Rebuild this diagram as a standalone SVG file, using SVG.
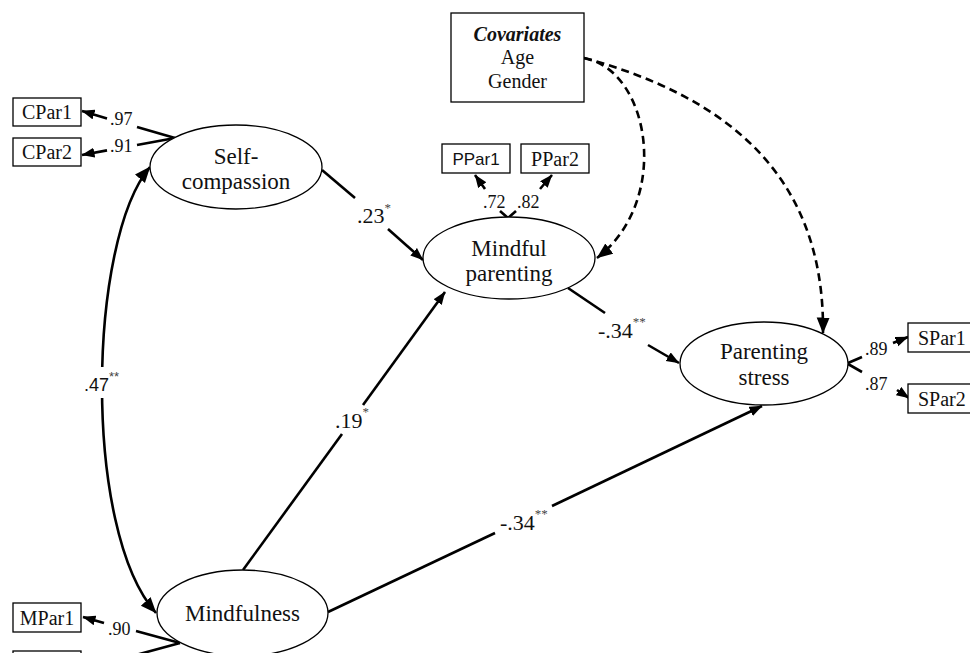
<svg xmlns="http://www.w3.org/2000/svg" width="970" height="653" viewBox="0 0 970 653">
<style>
  .box{fill:#fff;stroke:#000;stroke-width:1.3}
  .ell{fill:#fff;stroke:#000;stroke-width:1.3}
  .t{font-family:'Liberation Serif','Times New Roman',serif;fill:#111}
  .bl{font-size:20px;text-anchor:middle}
  .nl{font-size:23px;text-anchor:middle}
  .sans{font-family:'Liberation Sans',Arial,sans-serif}
  .ld{font-size:18px}
  .cf{font-size:22px}
  .sup{font-size:13px;fill:#444}
  .ln{fill:none;stroke:#000;stroke-width:2.6}
  .dl{fill:none;stroke:#000;stroke-width:2.6;stroke-dasharray:8 5}
</style>
<defs>
  <marker id="ah" markerUnits="userSpaceOnUse" markerWidth="14" markerHeight="11" refX="12.5" refY="5" orient="auto">
    <path d="M0,0 L13,5 L0,10 z" fill="#000"/>
  </marker>
  <marker id="ahb" markerUnits="userSpaceOnUse" markerWidth="17" markerHeight="14" refX="15.5" refY="6.5" orient="auto-start-reverse">
    <path d="M0,0 L16,6.5 L0,13 z" fill="#000"/>
  </marker>
</defs>

<g id="connectors">
  <!-- Self-compassion indicators -->
  <line class="ln" x1="175" y1="138" x2="137" y2="127"/>
  <line class="ln" x1="107" y1="118.5" x2="82" y2="111" marker-end="url(#ah)"/>
  <line class="ln" x1="175" y1="138" x2="137" y2="145"/>
  <line class="ln" x1="107" y1="150.4" x2="82" y2="155" marker-end="url(#ah)"/>
  <!-- SC -> MP -->
  <line class="ln" x1="322" y1="170" x2="355" y2="198"/>
  <line class="ln" x1="388" y1="229" x2="423" y2="260" marker-end="url(#ah)"/>
  <!-- MP indicators -->
  <line class="ln" x1="508" y1="218" x2="500" y2="211"/>
  <line class="ln" x1="485" y1="189" x2="475" y2="175" marker-end="url(#ah)"/>
  <line class="ln" x1="508" y1="218" x2="516" y2="211"/>
  <line class="ln" x1="540" y1="189" x2="552" y2="175" marker-end="url(#ah)"/>
  <!-- MP -> PS -->
  <line class="ln" x1="568" y1="288" x2="605" y2="313"/>
  <line class="ln" x1="648" y1="345" x2="679" y2="363" marker-end="url(#ah)"/>
  <!-- Mindfulness -> MP -->
  <line class="ln" x1="243" y1="570" x2="342" y2="434"/>
  <line class="ln" x1="363" y1="405" x2="445" y2="292" marker-end="url(#ah)"/>
  <!-- Mindfulness -> PS -->
  <line class="ln" x1="328" y1="612" x2="495" y2="533"/>
  <line class="ln" x1="552" y1="506" x2="762" y2="406" marker-end="url(#ah)"/>
  <!-- correlation -->
  <path class="ln" d="M150,167 C88,240 82,530 156,613" marker-start="url(#ahb)" marker-end="url(#ahb)"/>
  <rect x="92" y="367" width="22" height="31" fill="#fff"/>
  <!-- Mindfulness indicators -->
  <line class="ln" x1="180" y1="643" x2="136" y2="631"/>
  <line class="ln" x1="104" y1="623" x2="83" y2="617" marker-end="url(#ah)"/>
  <line class="ln" x1="180" y1="643" x2="110" y2="662"/>
  <!-- PS indicators -->
  <line class="ln" x1="848" y1="363" x2="862" y2="357"/>
  <line class="ln" x1="893" y1="343" x2="908" y2="337" marker-end="url(#ah)"/>
  <line class="ln" x1="848" y1="364" x2="862" y2="372"/>
  <line class="ln" x1="897" y1="390" x2="909" y2="398" marker-end="url(#ah)"/>
  <!-- covariates -->
  <path class="dl" d="M584,58 C650,70 672,200 597,258" marker-end="url(#ahb)"/>
  <path class="dl" d="M584,58 C720,95 825,170 823,333" marker-end="url(#ahb)"/>

  <!-- labels -->
  <text class="t ld" x="110" y="125">.97</text>
  <text class="t ld" x="110" y="152">.91</text>
  <text class="t cf" x="357" y="223">.23<tspan class="sup" dy="-11">*</tspan></text>
  <text class="t ld" x="483" y="208">.72</text>
  <text class="t ld" x="517" y="208">.82</text>
  <text class="t cf" x="598" y="338">-.34<tspan class="sup" dy="-12">**</tspan></text>
  <text class="t cf" x="335" y="428">.19<tspan class="sup" dy="-12">*</tspan></text>
  <text class="t cf" x="500" y="530">-.34<tspan class="sup" dy="-12">**</tspan></text>
  <text class="t sans" x="84" y="391" font-size="18" fill="#222">.47<tspan class="sup" dy="-10" font-size="12">**</tspan></text>
  <text class="t ld" x="108" y="635">.90</text>
  <text class="t ld" x="865" y="355">.89</text>
  <text class="t ld" x="865" y="390">.87</text>
</g>

<g id="covariates">
  <rect class="box" x="451" y="13" width="133" height="89"/>
  <text class="t" x="517.5" y="41" font-size="20" font-weight="bold" font-style="italic" text-anchor="middle">Covariates</text>
  <text class="t bl" x="517.5" y="64">Age</text>
  <text class="t bl" x="517.5" y="88">Gender</text>
</g>

<g id="cpar1"><rect class="box" x="13" y="98" width="68" height="28"/><text class="t bl" x="47" y="119">CPar1</text></g>
<g id="cpar2"><rect class="box" x="13" y="138" width="68" height="28"/><text class="t bl" x="47" y="159">CPar2</text></g>
<g id="ppar1"><rect class="box" x="442" y="144" width="68" height="29"/><text class="t sans" x="476" y="165" font-size="17" text-anchor="middle">PPar1</text></g>
<g id="ppar2"><rect class="box" x="521" y="144" width="68" height="29"/><text class="t bl" x="555" y="166">PPar2</text></g>
<g id="spar1"><rect class="box" x="908" y="323" width="70" height="29"/><text class="t" x="918" y="345" font-size="20">SPar1</text></g>
<g id="spar2"><rect class="box" x="908" y="384" width="70" height="29"/><text class="t" x="918" y="406" font-size="20">SPar2</text></g>
<g id="mpar1"><rect class="box" x="13" y="603" width="68" height="29"/><text class="t bl" x="47" y="625">MPar1</text></g>
<g id="mpar2"><rect class="box" x="13" y="651" width="68" height="29"/></g>

<g id="self-compassion">
  <ellipse class="ell" cx="236" cy="167" rx="86" ry="42"/>
  <text class="t nl" x="236" y="164">Self-</text>
  <text class="t nl" x="236" y="189">compassion</text>
</g>
<g id="mindful-parenting">
  <ellipse class="ell" cx="509" cy="258" rx="86" ry="41"/>
  <text class="t nl" x="509" y="256">Mindful</text>
  <text class="t nl" x="509" y="281">parenting</text>
</g>
<g id="parenting-stress">
  <ellipse class="ell" cx="764" cy="363.5" rx="84" ry="41.5"/>
  <text class="t nl" x="764" y="359">Parenting</text>
  <text class="t nl" x="764" y="385">stress</text>
</g>
<g id="mindfulness">
  <ellipse class="ell" cx="242.5" cy="613" rx="85.5" ry="43"/>
  <text class="t nl" x="242.5" y="621">Mindfulness</text>
</g>
</svg>
